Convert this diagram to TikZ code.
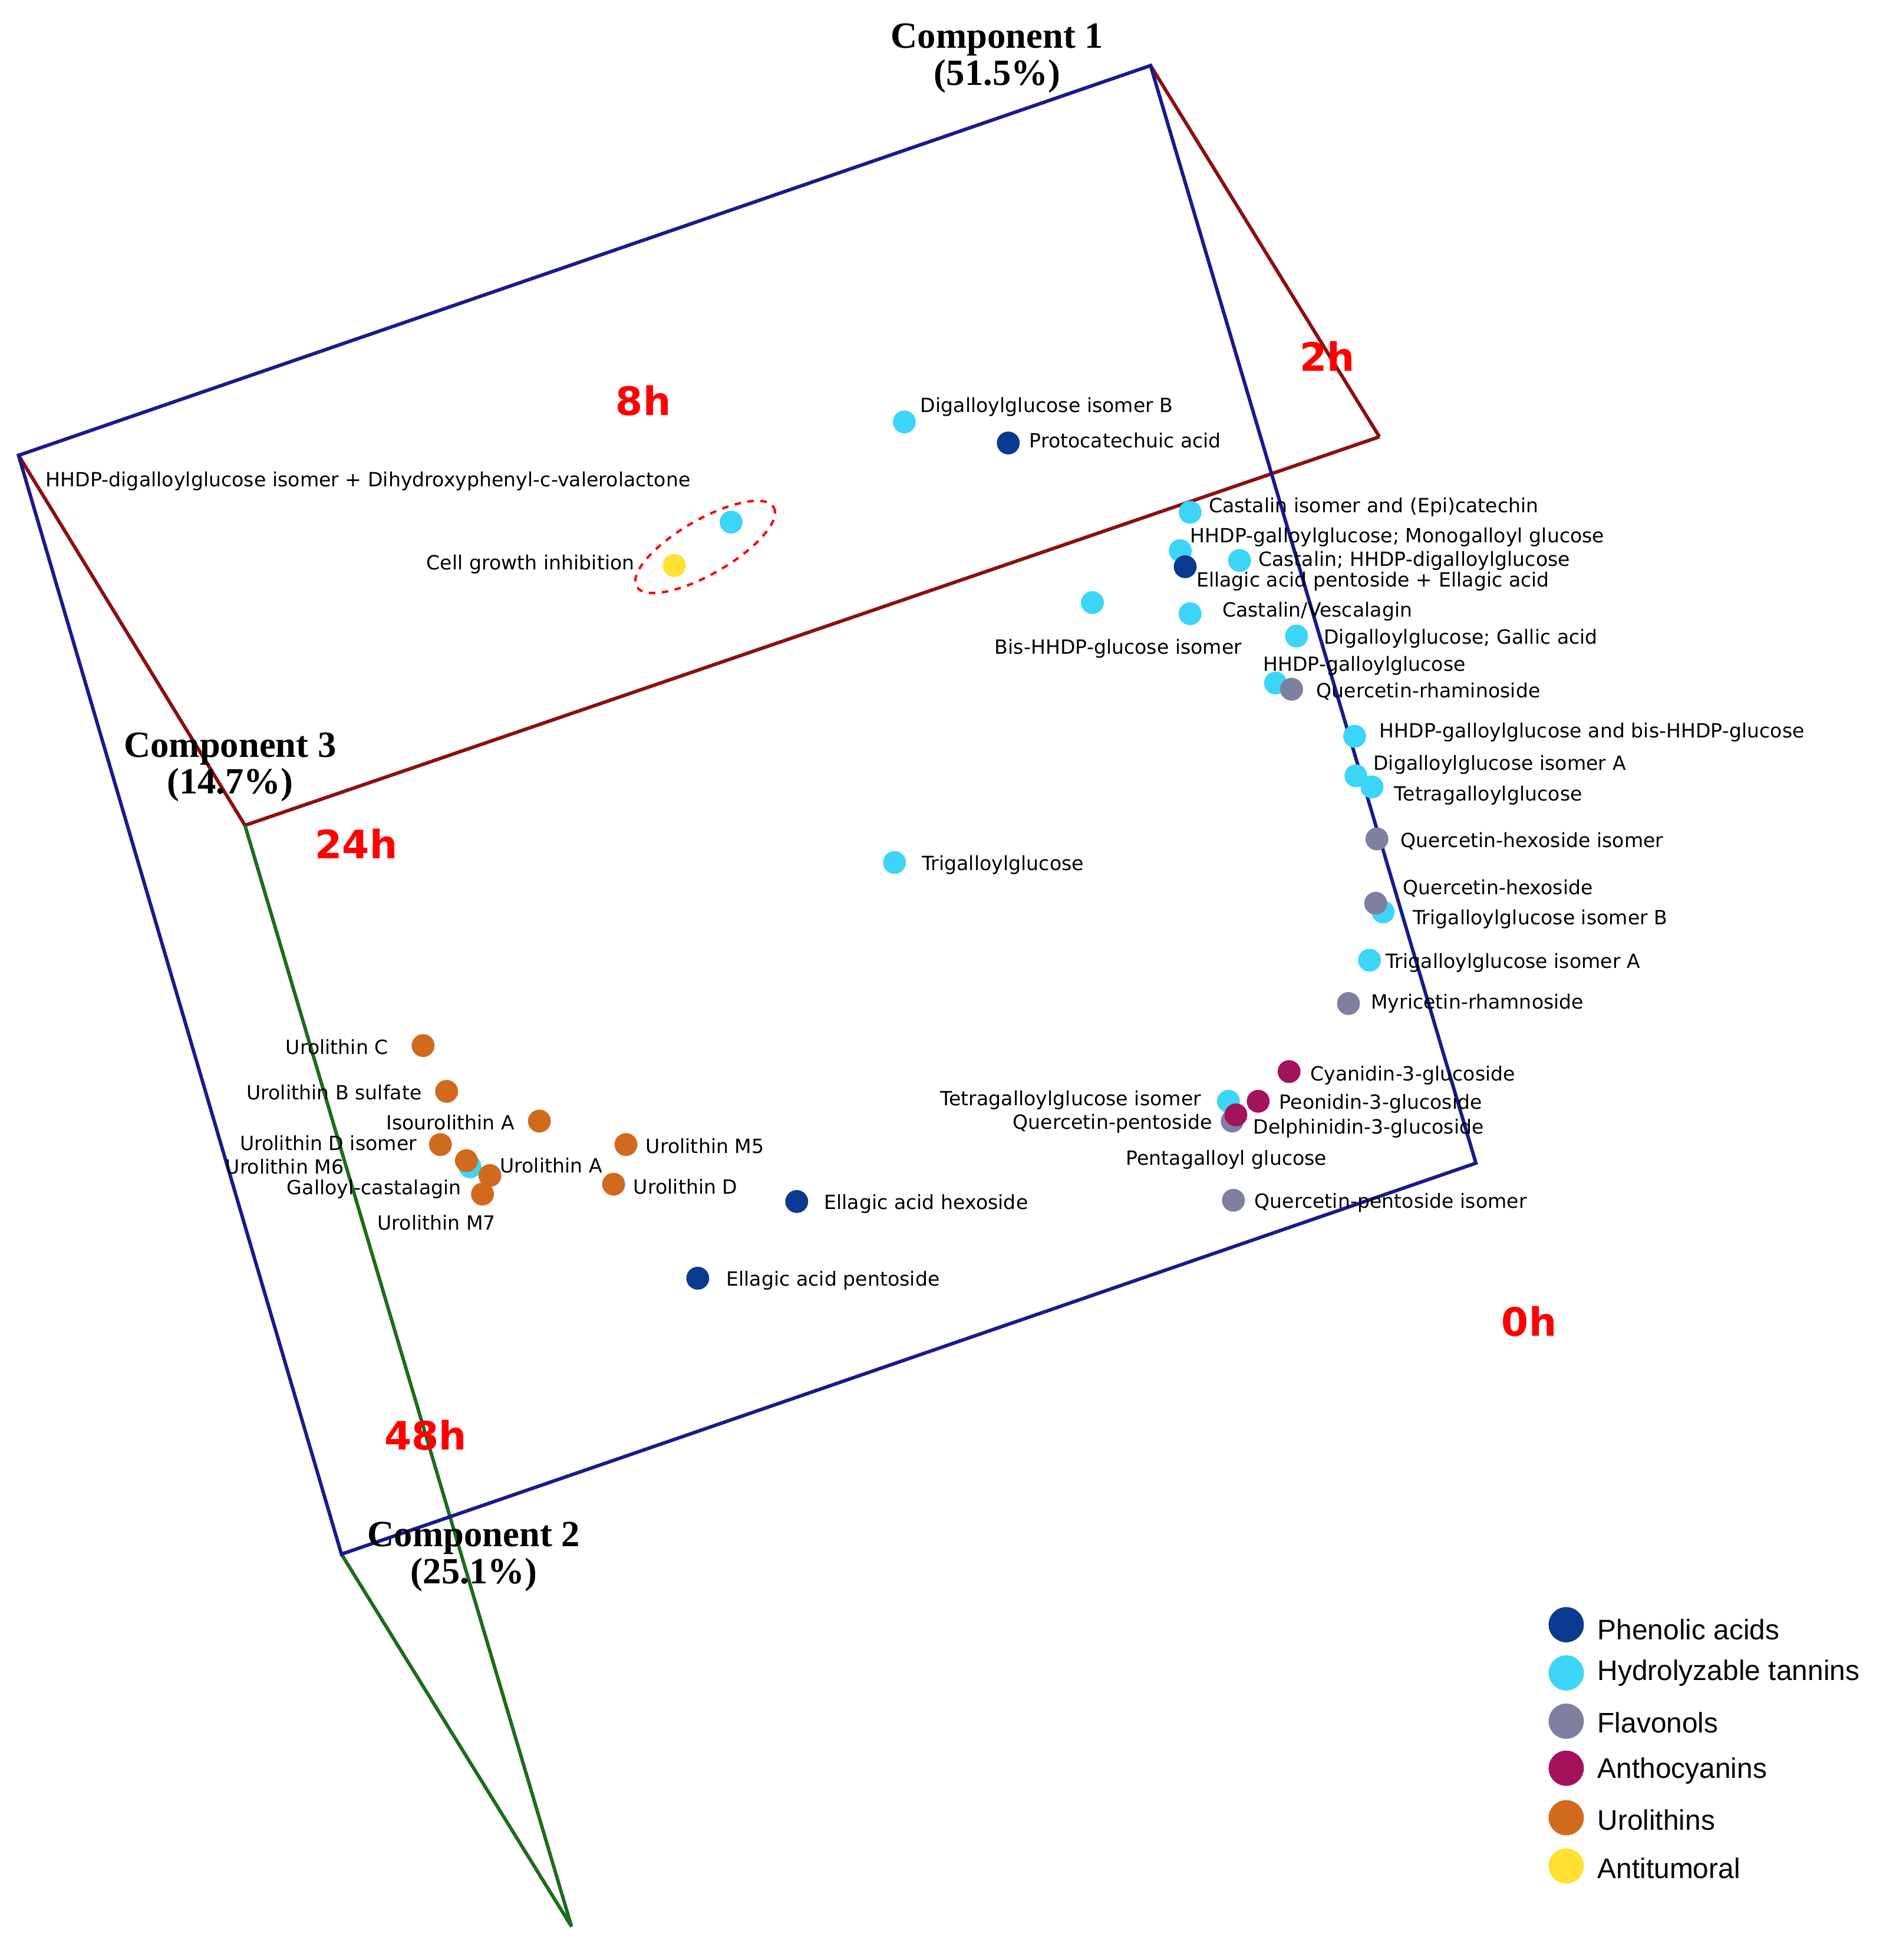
\documentclass[tikz,border=0pt]{standalone}
\usepackage{fontspec}
\setmainfont{DejaVu Sans}
\newfontfamily\compfont{Liberation Serif}
\newfontfamily\legfont{Liberation Sans}
\definecolor{cPA}{HTML}{0A3A8F}
\definecolor{cHT}{HTML}{3DD5F7}
\definecolor{cFL}{HTML}{7F7FA0}
\definecolor{cAN}{HTML}{A3125C}
\definecolor{cUR}{HTML}{D26A1E}
\definecolor{cAT}{HTML}{FFE033}
\definecolor{fblue}{HTML}{1A1A8C}
\definecolor{fred}{HTML}{8B1010}
\definecolor{fgreen}{HTML}{1E6B1E}
\tikzset{
 pt/.style={circle,fill=#1,inner sep=0pt,minimum size=0.37cm},
 lab/.style={font=\fontsize{9}{10}\selectfont,inner sep=1pt},
 tlab/.style={font=\fontsize{18}{19}\selectfont\bfseries,text=red},
 comp/.style={font=\compfont\fontsize{17}{17}\selectfont\bfseries,align=center},
 leg/.style={font=\legfont\fontsize{13}{14}\selectfont,anchor=west},
 lp/.style={circle,fill=#1,inner sep=0pt,minimum size=0.57cm},
 edge/.style={line width=1.6pt}
}
\begin{document}
\begin{tikzpicture}[x=0.02cm,y=-0.02cm]
\useasboundingbox (0,0) rectangle (1530,1584);
\coordinate (A) at (15,368);
\coordinate (B) at (930,53);
\coordinate (C) at (1193,940);
\coordinate (D) at (276,1256);
\coordinate (E) at (198,667);
\coordinate (F) at (1115,353);
\coordinate (G) at (462,1557);
\draw[edge,fred] (A)--(E) (B)--(F) (E)--(F);
\draw[edge,fgreen] (E)--(G) (D)--(G);
\draw[edge,fblue] (A)--(B)--(C)--(D)--cycle;
% labels
\node[comp] (c1) at (806,47) {Component 1\\(51.5\%)};
\node[comp] (c3) at (186,620) {Component 3\\(14.7\%)};
\node[comp] (c2) at (383,1258) {Component 2\\(25.1\%)};
\node[tlab] (t8) at (520,324) {8h};
\node[tlab] (t2) at (1073,288) {2h};
\node[tlab] (t24) at (288,682) {24h};
\node[tlab] (t0) at (1236,1068) {0h};
\node[tlab] (t48) at (344,1160) {48h};
% ellipse
\draw[red,dashed,line width=1.1pt,rotate around={30:(570,442)}] (570,442) ellipse [x radius=64,y radius=22];
% points
\node[pt=cHT] (p1) at (731,341) {};
\node[pt=cPA] (p2) at (815,358) {};
\node[pt=cHT] (p3) at (591,422) {};
\node[pt=cAT] (p4) at (545,457) {};
\node[pt=cHT] (p5) at (962,414) {};
\node[pt=cHT] (p6) at (954,445) {};
\node[pt=cPA] (p7) at (958,458) {};
\node[pt=cHT] (p8) at (1002,453) {};
\node[pt=cHT] (p9) at (883,487) {};
\node[pt=cHT] (p10) at (962,496) {};
\node[pt=cHT] (p11) at (1048,514) {};
\node[pt=cHT] (p12) at (1031,552) {};
\node[pt=cFL] (p13) at (1044,557) {};
\node[pt=cHT] (p14) at (1095,595) {};
\node[pt=cHT] (p15) at (1096,627) {};
\node[pt=cHT] (p16) at (1109,636) {};
\node[pt=cFL] (p17) at (1113,678) {};
\node[pt=cHT] (p18) at (723,697) {};
\node[pt=cHT] (p20) at (1118,737) {};
\node[pt=cFL] (p19) at (1112,730) {};
\node[pt=cHT] (p21) at (1107,776) {};
\node[pt=cFL] (p22) at (1090,811) {};
\node[pt=cAN] (p23) at (1042,866) {};
\node[pt=cHT] (p24) at (993,890) {};
\node[pt=cAN] (p25) at (1017,890) {};
\node[pt=cFL] (p26) at (996,906) {};
\node[pt=cAN] (p27) at (999,901) {};
\node[pt=cFL] (p28) at (997,970) {};
\node[pt=cPA] (p29) at (644,971) {};
\node[pt=cPA] (p30) at (564,1033) {};
\node[pt=cUR] (u1) at (342,845) {};
\node[pt=cUR] (u2) at (361,882) {};
\node[pt=cUR] (u3) at (436,906) {};
\node[pt=cUR] (u4) at (506,925) {};
\node[pt=cUR] (u5) at (356,925) {};
\node[pt=cHT] (u6b) at (380,943) {};
\node[pt=cUR] (u6) at (377,938) {};
\node[pt=cUR] (u7) at (396,950) {};
\node[pt=cUR] (u8) at (390,965) {};
\node[pt=cUR] (u9) at (496,957) {};
% text labels
\node[lab,anchor=west] at (742,329) {Digalloylglucose isomer B};
\node[lab,anchor=west] at (830,356) {Protocatechuic acid};
\node[lab,anchor=west] at (35,389) {HHDP-digalloylglucose isomer + Dihydroxyphenyl-c-valerolactone};
\node[lab,anchor=east] at (515,456) {Cell growth inhibition};
\node[lab,anchor=west] at (975,410) {Castalin isomer and (Epi)catechin};
\node[lab,anchor=west] at (960,434) {HHDP-galloylglucose; Monogalloyl glucose};
\node[lab,anchor=west] at (1015,453) {Castalin; HHDP-digalloylglucose};
\node[lab,anchor=west] at (965,470) {Ellagic acid pentoside + Ellagic acid};
\node[lab,anchor=west] at (802,524) {Bis-HHDP-glucose isomer};
\node[lab,anchor=west] at (986,494) {Castalin/Vescalagin};
\node[lab,anchor=west] at (1068,516) {Digalloylglucose; Gallic acid};
\node[lab,anchor=west] at (1019,538) {HHDP-galloylglucose};
\node[lab,anchor=west] at (1062,559) {Quercetin-rhaminoside};
\node[lab,anchor=west] at (1113,592) {HHDP-galloylglucose and bis-HHDP-glucose};
\node[lab,anchor=west] at (1108,618) {Digalloylglucose isomer A};
\node[lab,anchor=west] at (1125,643) {Tetragalloylglucose};
\node[lab,anchor=west] at (1130,680) {Quercetin-hexoside isomer};
\node[lab,anchor=west] at (743,699) {Trigalloylglucose};
\node[lab,anchor=west] at (1132,718) {Quercetin-hexoside};
\node[lab,anchor=west] at (1140,743) {Trigalloylglucose isomer B};
\node[lab,anchor=west] at (1118,778) {Trigalloylglucose isomer A};
\node[lab,anchor=west] at (1106,811) {Myricetin-rhamnoside};
\node[lab,anchor=west] at (1057,869) {Cyanidin-3-glucoside};
\node[lab,anchor=east] at (973,889) {Tetragalloylglucose isomer};
\node[lab,anchor=west] at (1032,892) {Peonidin-3-glucoside};
\node[lab,anchor=west] at (1011,912) {Delphinidin-3-glucoside};
\node[lab,anchor=east] at (982,908) {Quercetin-pentoside};
\node[lab,anchor=west] at (908,937) {Pentagalloyl glucose};
\node[lab,anchor=west] at (1012,972) {Quercetin-pentoside isomer};
\node[lab,anchor=west] at (664,973) {Ellagic acid hexoside};
\node[lab,anchor=west] at (585,1035) {Ellagic acid pentoside};
\node[lab,anchor=east] at (316,846) {Urolithin C};
\node[lab,anchor=east] at (343,883) {Urolithin B sulfate};
\node[lab,anchor=east] at (418,907) {Isourolithin A};
\node[lab,anchor=west] at (520,926) {Urolithin M5};
\node[lab,anchor=east] at (339,924) {Urolithin D isomer};
\node[lab,anchor=east] at (280,943) {Urolithin M6};
\node[lab,anchor=west] at (402,942) {Urolithin A};
\node[lab,anchor=east] at (375,961) {Galloyl-castalagin};
\node[lab,anchor=west] at (303,988) {Urolithin M7};
\node[lab,anchor=west] at (510,959) {Urolithin D};
% legend
\node[lp=cPA] (l1) at (1266,1313) {}; \node[leg] at (1285,1317) {Phenolic acids};
\node[lp=cHT] (l2) at (1266,1352) {}; \node[leg] at (1285,1352) {Hydrolyzable tannins};
\node[lp=cFL] (l3) at (1266,1391) {}; \node[leg] at (1285,1392) {Flavonols};
\node[lp=cAN] (l4) at (1266,1429) {}; \node[leg] at (1285,1431) {Anthocyanins};
\node[lp=cUR] (l5) at (1266,1469) {}; \node[leg] at (1285,1471) {Urolithins};
\node[lp=cAT] (l6) at (1266,1508) {}; \node[leg] at (1285,1510) {Antitumoral};
\end{tikzpicture}
\end{document}
